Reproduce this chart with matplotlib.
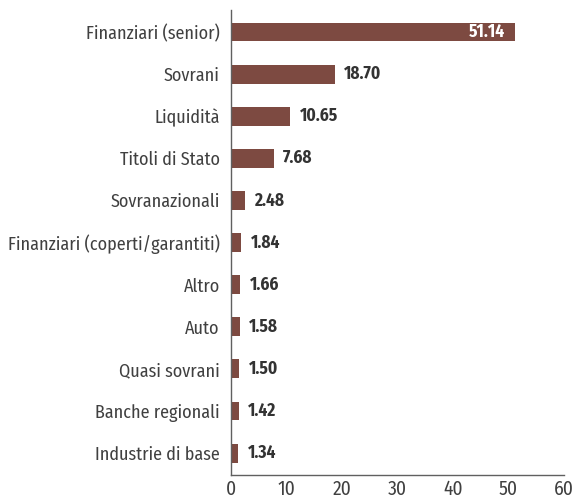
import matplotlib
matplotlib.use('Agg')
import matplotlib.pyplot as plt
from matplotlib import font_manager

categories = ['Finanziari (senior)', 'Sovrani', 'Liquidità', 'Titoli di Stato',
              'Sovranazionali', 'Finanziari (coperti/garantiti)', 'Altro', 'Auto',
              'Quasi sovrani', 'Banche regionali', 'Industrie di base']
values = [51.14, 18.70, 10.65, 7.68, 2.48, 1.84, 1.66, 1.58, 1.50, 1.42, 1.34]
xticks = [0, 10, 20, 30, 40, 50, 60]

names = {f.name for f in font_manager.fontManager.ttflist}
fam = 'DejaVu Sans'
for cand in ['Fira Sans Condensed', 'Roboto Condensed', 'PT Sans Narrow',
             'Archivo Narrow', 'Open Sans Condensed']:
    if cand in names:
        fam = cand
        break
plt.rcParams['font.family'] = [fam, 'DejaVu Sans']

bar_color = '#7d4a41'
text_color = '#404040'

fig = plt.figure(figsize=(5.76, 5.04), dpi=100)
ax = fig.add_axes([0.401, 0.0575, 0.578, 0.9225])

pos = list(range(len(categories)))
ax.barh(pos, values, height=0.45, color=bar_color)
ax.set_ylim(len(categories) - 0.48, -0.52)
ax.set_xlim(0, 60)
ax.set_yticks(pos)
ax.set_yticklabels(categories, fontsize=13, color=text_color)
ax.set_xticks(xticks)
ax.set_xticklabels([str(t) for t in xticks], fontsize=14, color=text_color)
ax.tick_params(axis='y', length=0, pad=8)
ax.tick_params(axis='x', length=0, pad=3)

for i, v in enumerate(values):
    if v > 40:
        ax.text(v - 1.8, i, f'{v:.2f}', ha='right', va='center', color='white',
                fontsize=12.5, fontweight='bold')
    else:
        ax.text(v + 1.7, i, f'{v:.2f}', ha='left', va='center', color='#333333',
                fontsize=12.5, fontweight='bold')

for s in ['top', 'right']:
    ax.spines[s].set_visible(False)
for s in ['left', 'bottom']:
    ax.spines[s].set_color('#606060')
    ax.spines[s].set_linewidth(1.0)

fig.savefig('out.png', dpi=100)
